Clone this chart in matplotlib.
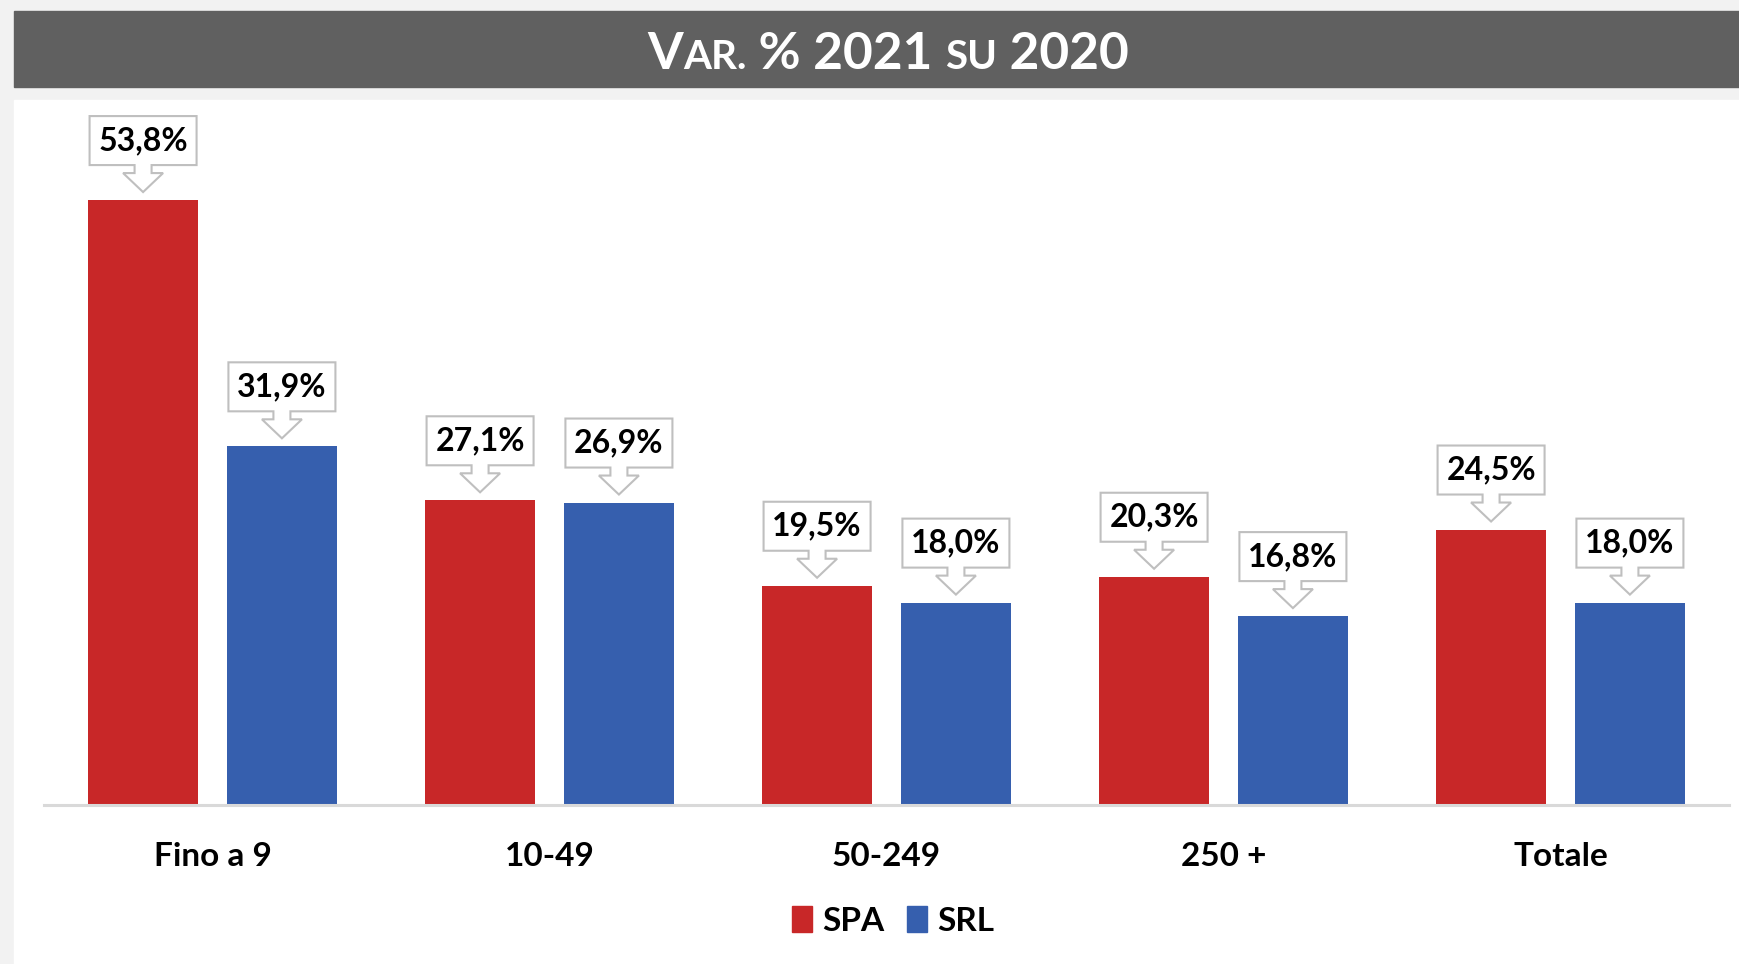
import numpy as np
import matplotlib
matplotlib.use('Agg')
import matplotlib.pyplot as plt
from matplotlib.patches import Rectangle, Polygon, Patch

plt.rcParams['font.family'] = ['Lato', 'DejaVu Sans']
plt.rcParams['font.weight'] = 'bold'

# data
categories = ['Fino a 9', '10-49', '50-249', '250 +', 'Totale']
spa = [53.8, 27.1, 19.5, 20.3, 24.5]
srl = [31.9, 26.9, 18.0, 16.8, 18.0]
series_names = ['SPA', 'SRL']
colors = ['#C82728', '#365FAE']

W, H = 1740, 964
fig = plt.figure(figsize=(W / 100, H / 100), dpi=100)
fig.patch.set_facecolor('#F2F2F2')

# title bar and white panel
fig.add_artist(Rectangle((14 / W, 1 - 87 / H), 1 - 14 / W, 76 / H,
                         transform=fig.transFigure, color='#606060', zorder=0))
fig.add_artist(Rectangle((14 / W, 0), 1 - 14 / W, 1 - 100 / H,
                         transform=fig.transFigure, color='white', zorder=0))

ax = fig.add_axes([44 / W, 1 - 805 / H, (1729 - 44) / W, (805 - 100) / H])
ax.set_facecolor('none')
x = np.arange(len(categories))
bw = 0.324
off = 0.206
ax.bar(x - off, spa, bw, color=colors[0], zorder=2)
ax.bar(x + off, srl, bw, color=colors[1], zorder=2)
ax.set_xlim(-0.5, 4.5)
ax.set_ylim(0, 62.7)
for s in ['top', 'right', 'left']:
    ax.spines[s].set_visible(False)
ax.spines['bottom'].set_color('#D9D9D9')
ax.spines['bottom'].set_linewidth(2.2)
ax.set_yticks([])
ax.set_xticks(x)
ax.set_xticklabels(categories, fontsize=24, fontweight='bold')
ax.tick_params(axis='x', length=0, pad=27)

# callouts
def callout(xv, v):
    ax_, ay = ax.transData.transform((xv, v))
    tip = ay + 8
    hb = tip + 19
    bb = hb + 8
    bt = bb + 49
    pts = [(ax_, tip), (ax_ - 20, hb), (ax_ - 8.5, hb), (ax_ - 8.5, bb),
           (ax_ - 53.5, bb), (ax_ - 53.5, bt), (ax_ + 53.5, bt), (ax_ + 53.5, bb),
           (ax_ + 8.5, bb), (ax_ + 8.5, hb), (ax_ + 20, hb)]
    fig.add_artist(Polygon(pts, closed=True, transform=None, facecolor='white',
                           edgecolor='#BFBFBF', linewidth=1.5, zorder=3))
    fig.text(ax_ / W, (bb + bt) / 2 / H, f'{v:.1f}%'.replace('.', ','),
             ha='center', va='center', fontsize=23, fontweight='bold',
             color='black', zorder=4)

for i in range(len(categories)):
    callout(x[i] - off, spa[i])
    callout(x[i] + off, srl[i])

# legend
handles = [Patch(color=c) for c in colors]
fig.legend(handles, series_names, loc='center', bbox_to_anchor=(893 / W, 1 - 921 / H),
           ncol=2, frameon=False, handlelength=0.6, handleheight=0.8,
           handletextpad=0.3, columnspacing=0.7, prop={'weight': 'bold', 'size': 24})

# title with small caps
big, small = 37, 29
pieces = [('V', big), ('AR.', small), (' % 2021 ', big), ('SU', small), (' 2020', big)]
renderer = fig.canvas.get_renderer()
texts = []
widths = []
for s, fs in pieces:
    t = fig.text(0, 0, s, fontsize=fs, fontweight='bold', color='white',
                 ha='left', va='baseline')
    texts.append(t)
    widths.append(t.get_window_extent(renderer).width)
total = sum(widths)
xpos = 888 - total / 2
for t, w in zip(texts, widths):
    t.set_position((xpos / W, 1 - 69 / H))
    xpos += w

fig.savefig('out.png', dpi=100, facecolor=fig.get_facecolor())
